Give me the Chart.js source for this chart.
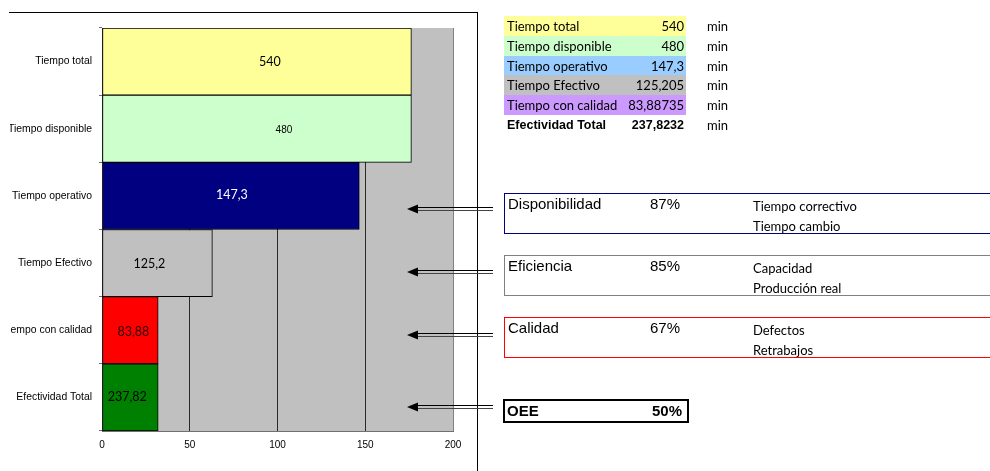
<!DOCTYPE html>
<html>
<head>
<meta charset="utf-8">
<script src="https://cdn.jsdelivr.net/npm/chart.js@4.4.0/dist/chart.umd.min.js"></script>
<style>
  html, body { margin:0; padding:0; background:#fff; width:990px; height:471px; overflow:hidden; }
  body { position:relative; font-family: Lato, "Noto Sans", sans-serif; color:#000; }
  #frame { position:absolute; left:9px; top:12px; width:469px; height:470px; box-sizing:border-box;
           border-top:1px solid #000; border-right:1px solid #000; }
  #wrap { position:absolute; left:10px; top:0; width:466px; height:471px; }
  .row { position:absolute; left:504px; width:182px; height:20px; line-height:20px; font-size:13px; }
  .row .lb { position:absolute; left:3px; }
  .row .vl { position:absolute; right:2px; }
  .unit { position:absolute; left:707px; font-size:13px; height:20px; line-height:20px; }
  .box { position:absolute; left:504px; width:500px; height:41px; box-sizing:border-box; border:1px solid #000; }
  .box .nm { position:absolute; left:3px; font-family:"Liberation Sans", Arial, sans-serif; font-size:15px; }
  .box .pc { position:absolute; left:145px; font-family:"Liberation Sans", Arial, sans-serif; font-size:15px; }
  .box .dt { position:absolute; left:248px; font-size:13px; }
  #oee { position:absolute; left:503px; top:399px; width:186px; height:24px; box-sizing:border-box;
         border:2px solid #000; font-family:"Liberation Sans", Arial, sans-serif; font-weight:bold; font-size:15px; line-height:20px; }
  #arrows { position:absolute; left:0; top:0; pointer-events:none; }
</style>
</head>
<body>
<div id="frame"></div>
<div id="wrap"><canvas id="c" width="466" height="471"></canvas></div>
<svg id="arrows" width="990" height="471"></svg>
<div id="side"></div>
<div id="oee"></div>

<script>
// --- datos del gráfico ---
const categories  = ['Tiempo total', 'Tiempo disponible', 'Tiempo operativo', 'Tiempo Efectivo', 'Tiempo con calidad', 'Efectividad Total'];
const barValues   = [176.3, 176.3, 146.6, 62.9, 32, 32];           // longitud de cada barra (eje 0..200)
const valueLabels = ['540', '480', '147,3', '125,2', '83,88', '237,82'];
const xTicks      = [0, 50, 100, 150, 200];

// --- tabla de la derecha ---
const tableLabels = ['Tiempo total', 'Tiempo disponible', 'Tiempo operativo', 'Tiempo Efectivo', 'Tiempo con calidad', 'Efectividad Total'];
const tableValues = ['540', '480', '147,3', '125,205', '83,88735', '237,8232'];
const tableUnit   = 'min';

// --- indicadores ---
const kpiNames   = ['Disponibilidad', 'Eficiencia', 'Calidad'];
const kpiPct     = ['87%', '85%', '67%'];
const kpiDetails = [['Tiempo correctivo', 'Tiempo cambio'], ['Capacidad', 'Producción real'], ['Defectos', 'Retrabajos']];
const oeeName    = 'OEE';
const oeePct     = '50%';

// estilos
const BAR_COLORS  = ['#FFFF99', '#CCFFCC', '#000080', '#C0C0C0', '#FF0000', '#008000'];
const ROW_COLORS  = ['#FFFF99', '#CCFFCC', '#99CCFF', '#C0C0C0', '#CC99FF', null];
const BOX_COLORS  = ['#000080', '#808080', '#FF0000'];
const BOX_TOPS    = [193, 255, 317];
const ARROW_YS    = [209, 272, 335, 407];
const PLOT_BG     = '#C0C0C0';
const CAL = '12.5px Lato, sans-serif';
const LABEL_STYLE = [
  { font: CAL, color: '#000', dx: 13, dy: 0 },
  { font: '10px "Liberation Sans", Arial, sans-serif', color: '#000', dx: 27, dy: 1 },
  { font: CAL, color: '#fff', dx: 1, dy: -1 },
  { font: CAL, color: '#000', dx: -8, dy: 1 },
  { font: CAL, color: '#2a0000', dx: 3, dy: 2 },
  { font: CAL, color: '#000', dx: -3, dy: 0 }
];

// fondo gris del área de trazado
const plotBgPlugin = {
  id: 'plotBg',
  beforeDraw(chart) {
    const { ctx, chartArea: a } = chart;
    ctx.save();
    ctx.fillStyle = PLOT_BG;
    ctx.fillRect(a.left, a.top, a.right - a.left, a.bottom - a.top);
    ctx.restore();
  }
};

// etiquetas de valor dentro de las barras
const valueLabelsPlugin = {
  id: 'valueLabels',
  afterDatasetsDraw(chart) {
    const { ctx } = chart;
    const meta = chart.getDatasetMeta(0);
    ctx.save();
    ctx.textAlign = 'center';
    ctx.textBaseline = 'middle';
    meta.data.forEach((bar, i) => {
      const st = LABEL_STYLE[i];
      ctx.font = st.font;
      ctx.fillStyle = st.color;
      ctx.fillText(valueLabels[i], (bar.x + bar.base) / 2 + st.dx, bar.y + st.dy);
    });
    ctx.restore();
  }
};

new Chart(document.getElementById('c').getContext('2d'), {
  type: 'bar',
  data: {
    labels: categories,
    datasets: [{
      data: barValues,
      backgroundColor: BAR_COLORS,
      borderColor: '#000',
      borderWidth: 1,
      borderSkipped: false,
      barPercentage: 1,
      categoryPercentage: 1
    }]
  },
  options: {
    indexAxis: 'y',
    responsive: false,
    animation: false,
    layout: { padding: { top: 28, right: 23, bottom: 0, left: 0 } },
    plugins: { legend: { display: false }, tooltip: { enabled: false } },
    scales: {
      x: {
        min: 0, max: 200,
        afterFit: s => { s.height = 40; },
        afterBuildTicks: s => { s.ticks = xTicks.map(v => ({ value: v })); },
        ticks: { padding: 8, color: '#000', font: { family: '"Liberation Sans", Arial, sans-serif', size: 10 } },
        grid: {
          drawTicks: false,
          color: c => (c.tick && c.tick.value === 200) ? '#808080' : '#2a2a2a',
          lineWidth: 1
        },
        border: { display: true, color: '#707070', width: 1 }
      },
      y: {
        afterFit: s => { s.width = 92; },
        ticks: { padding: 7, color: '#000', font: { family: '"Liberation Sans", Arial, sans-serif', size: 10.4 } },
        grid: { drawOnChartArea: false, drawTicks: true, tickLength: 3, color: '#707070' },
        border: { display: true, color: '#606060', width: 1 }
      }
    }
  },
  plugins: [plotBgPlugin, valueLabelsPlugin]
});

// flechas dobles
const svg = document.getElementById('arrows');
ARROW_YS.forEach(y => {
  svg.insertAdjacentHTML('beforeend',
    `<line x1="414" y1="${y - 1.5}" x2="493" y2="${y - 1.5}" stroke="#000" stroke-width="1"/>` +
    `<line x1="414" y1="${y + 1.5}" x2="493" y2="${y + 1.5}" stroke="#444" stroke-width="1"/>` +
    `<polygon points="407,${y} 418,${y - 4.5} 418,${y + 4.5}" fill="#000"/>`);
});

// tabla
const side = document.getElementById('side');
tableLabels.forEach((lb, i) => {
  const top = 16 + i * 19.8;
  const bold = i === tableLabels.length - 1;
  const row = document.createElement('div');
  row.className = 'row';
  row.style.top = top + 'px';
  if (ROW_COLORS[i]) row.style.background = ROW_COLORS[i];
  if (bold) { row.style.fontFamily = '"Liberation Sans", Arial, sans-serif'; row.style.fontWeight = 'bold'; row.style.fontSize = '12.5px'; }
  row.innerHTML = `<span class="lb">${lb}</span><span class="vl">${tableValues[i]}</span>`;
  side.appendChild(row);
  const u = document.createElement('div');
  u.className = 'unit';
  u.style.top = top + 'px';
  u.textContent = tableUnit;
  side.appendChild(u);
});

// cajas de indicadores
kpiNames.forEach((nm, i) => {
  const b = document.createElement('div');
  b.className = 'box';
  b.style.top = BOX_TOPS[i] + 'px';
  b.style.borderColor = BOX_COLORS[i];
  b.innerHTML =
    `<span class="nm" style="top:0px;line-height:20px">${nm}</span>` +
    `<span class="pc" style="top:0px;line-height:20px">${kpiPct[i]}</span>` +
    `<span class="dt" style="top:2px;line-height:20px">${kpiDetails[i][0]}</span>` +
    `<span class="dt" style="top:22px;line-height:20px">${kpiDetails[i][1]}</span>`;
  side.appendChild(b);
});

const oee = document.getElementById('oee');
oee.innerHTML = `<span style="position:absolute;left:2px">${oeeName}</span><span style="position:absolute;right:5px">${oeePct}</span>`;
</script>
</body>
</html>
